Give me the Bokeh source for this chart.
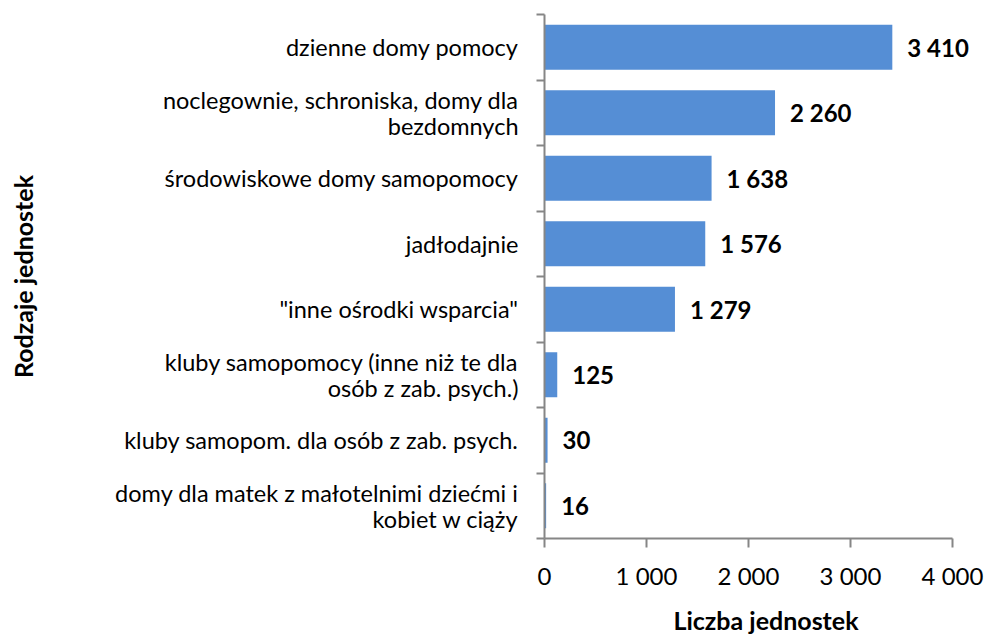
from bokeh.plotting import figure
from bokeh.models import ColumnDataSource, FixedTicker, Range1d, LabelSet
from bokeh.core.properties import value
from bokeh.embed import file_html
from bokeh.resources import INLINE

categories = [
    "dzienne domy pomocy",
    "noclegownie, schroniska, domy dla\nbezdomnych",
    "środowiskowe domy samopomocy",
    "jadłodajnie",
    "\"inne ośrodki wsparcia\"",
    "kluby samopomocy (inne niż te dla\nosób z zab. psych.)",
    "kluby samopom. dla osób z zab. psych.",
    "domy dla matek z małotelnimi dziećmi i\nkobiet w ciąży",
]
values = [3410, 2260, 1638, 1576, 1279, 125, 30, 16]
value_labels = ["3 410", "2 260", "1 638", "1 576", "1 279", "125", "30", "16"]
x_ticks = [0, 1000, 2000, 3000, 4000]
x_tick_labels = ["0", "1 000", "2 000", "3 000", "4 000"]

n = len(categories)
ypos = [n - 1 - i for i in range(n)]

FONT = "Lato"
BAR = "#558ED5"
AXIS = "#868686"

W, H = 987, 637
LEFT, TOP, BOTTOM = 544, 14, 93
frame_w = W - LEFT
axis_px = 408  # pixels for 0..4000
x_end = frame_w / axis_px * x_ticks[-1]

src = ColumnDataSource(dict(y=ypos, v=values, lab=value_labels))

p = figure(width=W, height=H, output_backend="svg", toolbar_location=None,
           x_range=Range1d(0, x_end), y_range=Range1d(-0.5, n - 0.5),
           min_border_left=LEFT, min_border_right=0, min_border_top=TOP,
           min_border_bottom=BOTTOM)
p.outline_line_color = None
p.grid.grid_line_color = None
p.background_fill_color = "white"
p.border_fill_color = "white"

p.hbar(y="y", right="v", left=0, height=0.69, source=src, fill_color=BAR, line_color=None)

p.add_layout(LabelSet(x="v", y="y", text="lab", source=src, x_offset=15,
                      text_baseline="middle", text_align="left",
                      text_font=value(FONT), text_font_style="bold",
                      text_font_size="24px", text_color="black"))

# y axis
ya = p.yaxis[0]
ya.ticker = FixedTicker(ticks=ypos, minor_ticks=[k - 0.5 for k in range(n + 1)])
ya.major_label_overrides = {y: c for y, c in zip(ypos, categories)}
ya.major_tick_out = 0
ya.major_tick_in = 0
ya.minor_tick_out = 8
ya.minor_tick_in = 0
ya.minor_tick_line_color = AXIS
ya.minor_tick_line_width = 2
ya.axis_line_color = AXIS
ya.axis_line_width = 2
ya.major_label_standoff = 18
ya.major_label_text_font = FONT
ya.major_label_text_font_size = "23.5px"
ya.major_label_text_line_height = 0.93
ya.major_label_text_color = "black"
ya.axis_label = "Rodzaje jednostek"
ya.axis_label_text_font = FONT
ya.axis_label_text_font_style = "bold"
ya.axis_label_text_font_size = "25px"
ya.axis_label_text_color = "black"
ya.axis_label_standoff = 74

# x axis
xa = p.xaxis[0]
xa.bounds = (x_ticks[0], x_ticks[-1])
xa.ticker = FixedTicker(ticks=x_ticks, minor_ticks=[])
xa.major_label_overrides = {t: l for t, l in zip(x_ticks, x_tick_labels)}
xa.major_tick_out = 9
xa.major_tick_in = 0
xa.major_tick_line_color = AXIS
xa.major_tick_line_width = 2
xa.minor_tick_line_color = None
xa.axis_line_color = AXIS
xa.axis_line_width = 2
xa.major_label_standoff = 13
xa.major_label_text_font = FONT
xa.major_label_text_font_size = "24px"
xa.major_label_text_color = "black"
xa.axis_label = "Liczba jednostek"
xa.axis_label_text_font = FONT
xa.axis_label_text_font_style = "bold"
xa.axis_label_text_font_size = "25px"
xa.axis_label_text_color = "black"
xa.axis_label_standoff = 12

open("out.html", "w").write(file_html(p, INLINE))
